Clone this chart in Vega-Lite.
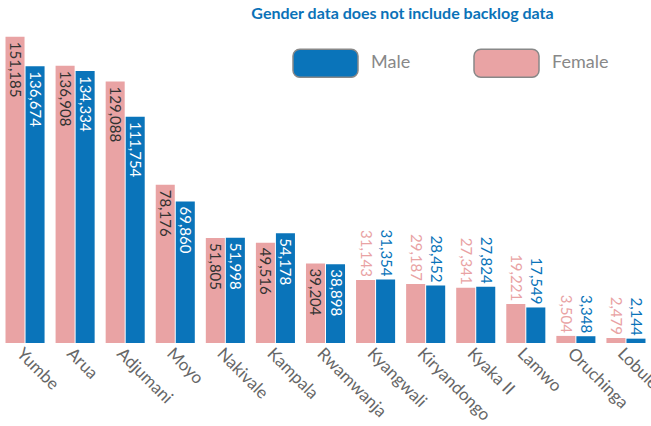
{
  "$schema": "https://vega.github.io/schema/vega-lite/v6.json",
  "width": 651,
  "height": 324,
  "autosize": {"type": "none"},
  "padding": {"left": 0, "top": 19, "right": 0, "bottom": 83},
  "background": "white",
  "title": {
    "text": "Gender data does not include backlog data",
    "anchor": "middle",
    "font": "Lato",
    "fontSize": 16,
    "fontWeight": "bold",
    "color": "#0a72b8",
    "offset": 0,
    "baseline": "alphabetic",
    "dx": 77,
    "dy": 16
  },
  "data": {
    "values": [
      {"location": "Yumbe", "gender": "Female", "value": 151185},
      {"location": "Yumbe", "gender": "Male", "value": 136674},
      {"location": "Arua", "gender": "Female", "value": 136908},
      {"location": "Arua", "gender": "Male", "value": 134334},
      {"location": "Adjumani", "gender": "Female", "value": 129088},
      {"location": "Adjumani", "gender": "Male", "value": 111754},
      {"location": "Moyo", "gender": "Female", "value": 78176},
      {"location": "Moyo", "gender": "Male", "value": 69860},
      {"location": "Nakivale", "gender": "Female", "value": 51805},
      {"location": "Nakivale", "gender": "Male", "value": 51998},
      {"location": "Kampala", "gender": "Female", "value": 49516},
      {"location": "Kampala", "gender": "Male", "value": 54178},
      {"location": "Rwamwanja", "gender": "Female", "value": 39204},
      {"location": "Rwamwanja", "gender": "Male", "value": 38898},
      {"location": "Kyangwali", "gender": "Female", "value": 31143},
      {"location": "Kyangwali", "gender": "Male", "value": 31354},
      {"location": "Kiryandongo", "gender": "Female", "value": 29187},
      {"location": "Kiryandongo", "gender": "Male", "value": 28452},
      {"location": "Kyaka II", "gender": "Female", "value": 27341},
      {"location": "Kyaka II", "gender": "Male", "value": 27824},
      {"location": "Lamwo", "gender": "Female", "value": 19221},
      {"location": "Lamwo", "gender": "Male", "value": 17549},
      {"location": "Oruchinga", "gender": "Female", "value": 3504},
      {"location": "Oruchinga", "gender": "Male", "value": 3348},
      {"location": "Lobule", "gender": "Female", "value": 2479},
      {"location": "Lobule", "gender": "Male", "value": 2144}
    ]
  },
  "encoding": {
    "x": {
      "field": "location",
      "type": "nominal",
      "sort": null,
      "scale": {"paddingInner": 0.22, "paddingOuter": 0.11},
      "axis": {
        "title": null,
        "labelAngle": 45,
        "labelAlign": "left",
        "labelBaseline": "top",
        "labelFont": "Lato",
        "labelFontSize": 17,
        "labelColor": "#666666",
        "ticks": false,
        "domain": false,
        "labelPadding": 2,
        "labelOverlap": false,
        "labelBound": false
      }
    },
    "xOffset": {
      "field": "gender",
      "type": "nominal",
      "sort": ["Female", "Male"],
      "scale": {"paddingInner": 0.05, "paddingOuter": 0}
    },
    "y": {
      "field": "value",
      "type": "quantitative",
      "scale": {"domain": [0, 160000], "nice": false},
      "axis": null
    }
  },
  "layer": [
    {
      "mark": {"type": "bar"},
      "encoding": {
        "color": {
          "field": "gender",
          "type": "nominal",
          "scale": {"domain": ["Male", "Female"], "range": ["#0a74ba", "#e9a3a4"]},
          "legend": {
            "orient": "none",
            "legendX": 292,
            "legendY": 10.5,
            "direction": "horizontal",
            "title": null,
            "symbolType": "M-0.79,-0.43L0.79,-0.43A0.21,0.21,0,0,1,1,-0.22L1,0.22A0.21,0.21,0,0,1,0.79,0.43L-0.79,0.43A0.21,0.21,0,0,1,-1,0.22L-1,-0.22A0.21,0.21,0,0,1,-0.79,-0.43Z",
            "symbolSize": 4225,
            "symbolStrokeColor": "#888888",
            "symbolStrokeWidth": 1.5,
            "symbolOpacity": 1,
            "labelFont": "Lato",
            "labelFontSize": 18,
            "labelColor": "#888888",
            "labelOffset": 12,
            "columnPadding": 60,
            "padding": 0
          }
        }
      }
    },
    {
      "transform": [{"filter": "datum.value > 35000"}],
      "mark": {"type": "text", "angle": 90, "align": "left", "baseline": "middle", "dx": 5, "font": "Lato", "fontSize": 15},
      "encoding": {
        "text": {"field": "value", "type": "quantitative", "format": ","},
        "color": {"condition": {"test": "datum.gender === 'Male'", "value": "#ffffff"}, "value": "#333333"}
      }
    },
    {
      "transform": [{"filter": "datum.value <= 35000"}],
      "mark": {"type": "text", "angle": 90, "align": "right", "baseline": "middle", "dx": -3, "font": "Lato", "fontSize": 15},
      "encoding": {
        "text": {"field": "value", "type": "quantitative", "format": ","},
        "color": {"field": "gender", "type": "nominal", "legend": null}
      }
    }
  ],
  "config": {"view": {"stroke": null}}
}
